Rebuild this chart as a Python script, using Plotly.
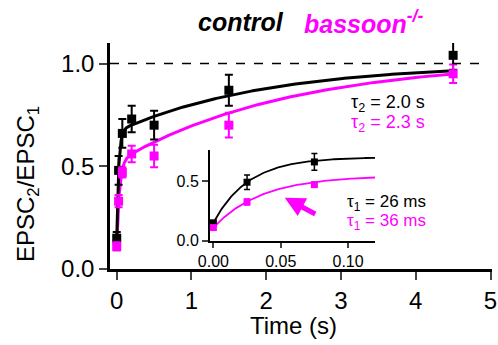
import numpy as np
import plotly.graph_objects as go

# ---- data ----
t_int = [0.0, 0.025, 0.075, 0.2, 0.5, 1.5, 4.5]          # interstimulus interval (s)
ctrl_y = [0.15, 0.48, 0.66, 0.73, 0.70, 0.87, 1.04]
ctrl_err = [0.03, 0.07, 0.07, 0.065, 0.07, 0.075, 0.07]
bsn_y = [0.11, 0.33, 0.47, 0.56, 0.55, 0.70, 0.95]
bsn_err = [0.02, 0.03, 0.025, 0.04, 0.055, 0.06, 0.045]

inset_t = [0.0, 0.025, 0.075]
inset_ctrl = [0.15, 0.49, 0.66]
inset_ctrl_err = [0.01, 0.06, 0.07]
inset_bsn = [0.11, 0.325, 0.47]
inset_bsn_err = [0.01, 0.025, 0.02]

# fit parameters (double exponential recovery, main; single exp, inset)
ctrl_fit = dict(C=1.0, a1=0.52, tau1=0.026, a2=0.33, tau2=2.0)
bsn_fit = dict(C=1.02, a1=0.41, tau1=0.036, a2=0.50, tau2=2.3)
ctrl_fast = dict(A=0.70, y0=0.15, tau=0.026)
bsn_fast = dict(A=0.545, y0=0.11, tau=0.036)

main_xticks = [0, 1, 2, 3, 4, 5]
main_yticks = [0.0, 0.5, 1.0]
main_yticktext = ["0.0", "0.5", "1.0"]
inset_xticks = [0.0, 0.05, 0.10]
inset_xticktext = ["0.00", "0.05", "0.10"]
inset_yticks = [0.0, 0.5]
inset_yticktext = ["0.0", "0.5"]

BLACK = "#000000"
MAG = "#ff00ff"
FONT = "Arial, Liberation Sans, Helvetica, sans-serif"


def dexp(t, p):
    return p["C"] - p["a1"] * np.exp(-t / p["tau1"]) - p["a2"] * np.exp(-t / p["tau2"])


def sexp(t, p):
    return p["A"] - (p["A"] - p["y0"]) * np.exp(-t / p["tau"])


tf = np.concatenate([np.linspace(0, 0.3, 120), np.linspace(0.3, 4.5, 200)])
tfi = np.linspace(0, 0.12, 150)

fig = go.Figure()

# main fits
fig.add_trace(go.Scatter(x=tf, y=dexp(tf, bsn_fit), mode="lines",
                         line=dict(color=MAG, width=3), showlegend=False, hoverinfo="skip"))
fig.add_trace(go.Scatter(x=tf, y=dexp(tf, ctrl_fit), mode="lines",
                         line=dict(color=BLACK, width=3), showlegend=False, hoverinfo="skip"))
# main points
fig.add_trace(go.Scatter(x=t_int, y=ctrl_y, mode="markers",
                         marker=dict(symbol="square", size=9, color=BLACK),
                         error_y=dict(type="data", array=ctrl_err, color=BLACK, thickness=2, width=4),
                         showlegend=False, cliponaxis=False))
fig.add_trace(go.Scatter(x=t_int, y=bsn_y, mode="markers",
                         marker=dict(symbol="square", size=9, color=MAG),
                         error_y=dict(type="data", array=bsn_err, color=MAG, thickness=2, width=4),
                         showlegend=False, cliponaxis=False))

# inset fits
fig.add_trace(go.Scatter(x=tfi, y=sexp(tfi, bsn_fast), mode="lines", xaxis="x2", yaxis="y2",
                         line=dict(color=MAG, width=1.8), showlegend=False, hoverinfo="skip"))
fig.add_trace(go.Scatter(x=tfi, y=sexp(tfi, ctrl_fast), mode="lines", xaxis="x2", yaxis="y2",
                         line=dict(color=BLACK, width=1.8), showlegend=False, hoverinfo="skip"))
fig.add_trace(go.Scatter(x=inset_t, y=inset_ctrl, mode="markers", xaxis="x2", yaxis="y2",
                         marker=dict(symbol="square", size=7, color=BLACK),
                         error_y=dict(type="data", array=inset_ctrl_err, color=BLACK, thickness=1.5, width=3),
                         showlegend=False, cliponaxis=False))
fig.add_trace(go.Scatter(x=inset_t, y=inset_bsn, mode="markers", xaxis="x2", yaxis="y2",
                         marker=dict(symbol="square", size=7, color=MAG),
                         error_y=dict(type="data", array=inset_bsn_err, color=MAG, thickness=1.5, width=3),
                         showlegend=False, cliponaxis=False))

# dashed line at 1.0
fig.add_shape(type="line", x0=-0.09, x1=4.9, y0=1.0, y1=1.0, xref="x", yref="y",
              line=dict(color=BLACK, width=1.5, dash="dash"))

ann = []
ann.append(dict(text="<b><i>control</i></b>", x=241, y=22,
                font=dict(size=25, color=BLACK, family=FONT)))
ann.append(dict(text="<b><i>bassoon<sup>-/-</sup></i></b>", x=302, y=22, xanchor="left",
                font=dict(size=25, color=MAG, family=FONT)))
ann.append(dict(text="τ<sub>2</sub> = 2.0 s", x=388, y=103,
                font=dict(size=18, color=BLACK, family=FONT)))
ann.append(dict(text="τ<sub>2</sub> = 2.3 s", x=388, y=123,
                font=dict(size=18, color=MAG, family=FONT)))
ann.append(dict(text="τ<sub>1</sub> = 26 ms", x=386, y=203,
                font=dict(size=17, color=BLACK, family=FONT)))
ann.append(dict(text="τ<sub>1</sub> = 36 ms", x=386, y=222,
                font=dict(size=17, color=MAG, family=FONT)))
ann.append(dict(text="EPSC<sub>2</sub>/EPSC<sub>1</sub>", x=27, y=184, textangle=-90,
                font=dict(size=24, color=BLACK, family=FONT)))
ann.append(dict(text="Time (s)", x=293, y=325,
                font=dict(size=24, color=BLACK, family=FONT)))

W, H = 498, 345
L, R, T, B = 110, 6, 43, 76
pw, ph = W - L - R, H - T - B


def px(xp):
    return (xp - L) / pw


def py(yp):
    return (H - B - yp) / ph


for a in ann:
    a["x"] = px(a["x"])
    a["y"] = py(a["y"])
    a["xref"] = "paper"
    a["yref"] = "paper"
    a["showarrow"] = False
    a.setdefault("xanchor", "center")
    a["yanchor"] = "middle"

# arrow in inset
ann.append(dict(x=0.053, y=0.36, xref="x2", yref="y2", ax=32, ay=17, text="",
                showarrow=True, arrowhead=2, arrowsize=0.8, arrowwidth=5, arrowcolor=MAG))

fig.update_layout(
    width=W, height=H,
    margin=dict(l=L, r=R, t=T, b=B),
    paper_bgcolor="white", plot_bgcolor="rgba(0,0,0,0)",
    font=dict(family=FONT, color=BLACK),
    annotations=ann,
    xaxis=dict(range=[-0.09, 5.02], tickvals=main_xticks, ticks="outside", ticklen=8, tickwidth=2,
               showline=True, linewidth=2.5, linecolor=BLACK, showgrid=False, zeroline=False,
               tickfont=dict(size=24, family=FONT), domain=[0, 1], anchor="y", automargin=False),
    yaxis=dict(range=[0, 1.1], tickvals=main_yticks, ticktext=main_yticktext, ticks="outside",
               ticklen=8, tickwidth=2, showline=True, linewidth=2.5, linecolor=BLACK,
               showgrid=False, zeroline=False, tickfont=dict(size=24, family=FONT),
               domain=[0, 1], anchor="x", automargin=False),
    xaxis2=dict(range=[-0.0025, 0.12], tickvals=inset_xticks, ticktext=inset_xticktext,
                ticks="outside", ticklen=5, tickwidth=1.5, showline=True, linewidth=2,
                linecolor=BLACK, showgrid=False, zeroline=False,
                tickfont=dict(size=16, family=FONT), domain=[px(210), px(375)], anchor="y2"),
    yaxis2=dict(range=[0, 0.76], tickvals=inset_yticks, ticktext=inset_yticktext,
                ticks="outside", ticklen=6, tickwidth=1.5, showline=True, linewidth=2,
                linecolor=BLACK, showgrid=False, zeroline=False,
                tickfont=dict(size=16, family=FONT), domain=[py(240.7), py(150)], anchor="x2"),
)

fig.write_html("out.html", config={"displayModeBar": False},
               post_script="document.body.style.margin='0';")
